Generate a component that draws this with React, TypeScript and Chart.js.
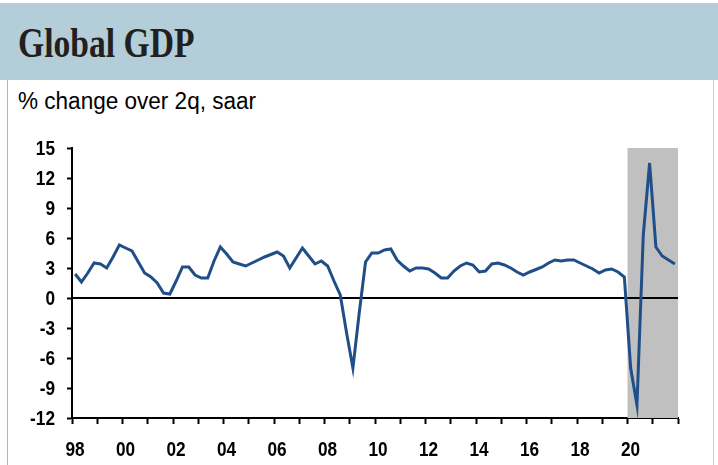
import React, { useEffect, useRef } from "react";
import { Chart, registerables } from "chart.js";

Chart.register(...registerables);

// Quarterly data, 1Q98 .. 4Q21 (% change over 2q, saar)
const startYear = 1998;
const gdpChange = [
  2.4, 1.6, 2.5, 3.5, 3.4, 3.0, 4.1, 5.3, 5.0, 4.7, 3.6, 2.5,
  2.1, 1.5, 0.5, 0.4, 1.7, 3.1, 3.1, 2.3, 2.0, 2.0, 3.7, 5.1,
  4.4, 3.6, 3.4, 3.2, 3.5, 3.8, 4.1, 4.35, 4.6, 4.2, 3.0, 4.0,
  5.0, 4.2, 3.4, 3.7, 3.2, 1.7, 0.3, -3.5, -7.0, -1.5, 3.6, 4.5,
  4.5, 4.8, 4.9, 3.8, 3.2, 2.7, 3.0, 3.0, 2.9, 2.5, 2.0, 2.0,
  2.7, 3.2, 3.5, 3.3, 2.6, 2.7, 3.4, 3.5, 3.3, 3.0, 2.6, 2.3,
  2.6, 2.85, 3.1, 3.5, 3.8, 3.7, 3.8, 3.8, 3.5, 3.2, 2.9, 2.5,
  2.8, 2.9, 2.6, 2.1, -7.0, -10.7, 6.3, 13.5, 5.1, 4.2, 3.8, 3.4,
];
const xTickYears = [1998, 2000, 2002, 2004, 2006, 2008, 2010, 2012, 2014, 2016, 2018, 2020];
const xTickLabels = ["98", "00", "02", "04", "06", "08", "10", "12", "14", "16", "18", "20"];
const yTickValues = [-12, -9, -6, -3, 0, 3, 6, 9, 12, 15];
const shadeYears = [2020, 2022];
const xRange = [1998, 2022];

const LABEL_FONT = "bold 21px 'Liberation Sans', Arial, sans-serif";
const LABEL_SQUEEZE = 0.82;

export default function App() {
  const ref = useRef<HTMLCanvasElement | null>(null);

  useEffect(() => {
    if (!ref.current) return;
    const points = gdpChange.map((v, i) => ({ x: startYear + 0.125 + 0.25 * i, y: v }));

    const shadePlugin = {
      id: "shade",
      beforeDatasetsDraw(chart: any) {
        const { ctx, scales } = chart;
        const xs = scales.x;
        const ys = scales.y;
        const x0 = xs.getPixelForValue(shadeYears[0]);
        const x1 = xs.getPixelForValue(shadeYears[1]);
        const yTop = ys.getPixelForValue(yTickValues[yTickValues.length - 1]);
        const yBot = ys.getPixelForValue(yTickValues[0]);
        ctx.save();
        ctx.fillStyle = "#c0c0c0";
        ctx.fillRect(x0, yTop, x1 - x0, yBot - yTop);
        const y0 = ys.getPixelForValue(0);
        ctx.strokeStyle = "#000";
        ctx.lineWidth = 2;
        ctx.beginPath();
        ctx.moveTo(xs.getPixelForValue(xRange[0]), y0);
        ctx.lineTo(xs.getPixelForValue(xRange[1]), y0);
        ctx.stroke();
        ctx.restore();
      },
      afterDraw(chart: any) {
        const { ctx, scales, chartArea } = chart;
        const xs = scales.x;
        const ys = scales.y;
        ctx.save();
        ctx.font = LABEL_FONT;
        ctx.fillStyle = "#000";
        ctx.textAlign = "right";
        ctx.textBaseline = "middle";
        yTickValues.forEach((v) => {
          ctx.save();
          ctx.translate(chartArea.left - 17, ys.getPixelForValue(v) + 1);
          ctx.scale(LABEL_SQUEEZE, 1);
          ctx.fillText(String(v), 0, 0);
          ctx.restore();
        });
        ctx.textAlign = "center";
        xTickYears.forEach((yr, i) => {
          ctx.save();
          ctx.translate(xs.getPixelForValue(yr) + 3, chartArea.bottom + 32);
          ctx.scale(LABEL_SQUEEZE, 1);
          ctx.fillText(xTickLabels[i], 0, 0);
          ctx.restore();
        });
        ctx.restore();
      },
    };

    const chart = new Chart(ref.current, {
      type: "line",
      data: {
        datasets: [
          {
            data: points,
            borderColor: "#1f4e89",
            borderWidth: 3,
            pointRadius: 0,
            tension: 0,
            fill: false,
          },
        ],
      },
      options: {
        animation: false,
        responsive: false,
        layout: { padding: { left: 0, right: 40, top: 148, bottom: 5 } },
        plugins: { legend: { display: false }, tooltip: { enabled: false } },
        scales: {
          x: {
            type: "linear",
            min: xRange[0],
            max: xRange[1],
            afterFit: (s: any) => {
              s.height = 42;
            },
            afterBuildTicks: (s: any) => {
              const t = [];
              for (let y = xRange[0]; y <= xRange[1]; y++) t.push({ value: y });
              s.ticks = t;
            },
            ticks: { display: false, autoSkip: false, maxRotation: 0 },
            grid: {
              drawOnChartArea: false,
              drawTicks: true,
              tickLength: 6,
              tickColor: "#000",
              tickWidth: 2,
            },
            border: { display: true, color: "#000", width: 2 },
          },
          y: {
            min: yTickValues[0],
            max: yTickValues[yTickValues.length - 1],
            afterFit: (s: any) => {
              s.width = 72;
            },
            afterBuildTicks: (s: any) => {
              s.ticks = yTickValues.map((v) => ({ value: v }));
            },
            ticks: { display: false },
            grid: {
              drawOnChartArea: false,
              drawTicks: true,
              tickLength: 5,
              tickColor: "#000",
              tickWidth: 2,
            },
            border: { display: true, color: "#000", width: 2 },
          },
        },
      },
      plugins: [shadePlugin],
    });
    return () => chart.destroy();
  }, []);

  return (
    <div
      style={{
        position: "absolute",
        left: 0,
        top: 0,
        width: 718,
        height: 465,
        background: "#fff",
        overflow: "hidden",
      }}
    >
      <div style={{ position: "absolute", left: 7, top: 60, width: 1, height: 405, background: "#b5b5b5" }} />
      <div style={{ position: "absolute", left: 713, top: 60, width: 1, height: 405, background: "#d0d0d0" }} />
      <div style={{ position: "absolute", left: 0, top: 3, width: 718, height: 77, background: "#b3ced8" }} />
      <div
        style={{
          position: "absolute",
          left: 18,
          top: 22,
          fontFamily: "'Liberation Serif', serif",
          fontWeight: "bold",
          fontSize: 42,
          lineHeight: "42px",
          color: "#231f20",
          whiteSpace: "nowrap",
          transform: "scaleX(0.8)",
          transformOrigin: "left top",
        }}
      >
        Global GDP
      </div>
      <div
        style={{
          position: "absolute",
          left: 18,
          top: 88,
          fontFamily: "'Liberation Sans', Arial, sans-serif",
          fontSize: 23,
          lineHeight: "26px",
          color: "#000",
          whiteSpace: "nowrap",
          transform: "scaleX(0.98)",
          transformOrigin: "left top",
        }}
      >
        % change over 2q, saar
      </div>
      <canvas ref={ref} width={718} height={465} style={{ position: "absolute", left: 0, top: 0 }} />
    </div>
  );
}
